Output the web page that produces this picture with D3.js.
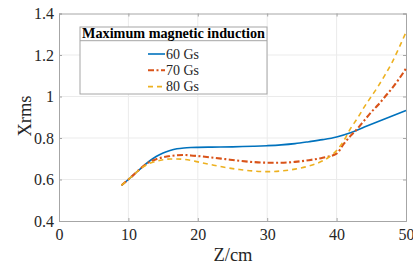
<!DOCTYPE html>
<html>
<head>
<meta charset="utf-8">
<script src="https://cdn.jsdelivr.net/npm/d3@7"></script>
<style>
  body { margin: 0; background: #fff; }
</style>
</head>
<body>
<script>
// data
const zBlue = [9, 10, 11, 12, 13, 14, 15, 16, 17, 18, 19, 20, 22, 25, 28, 30, 32, 34, 36, 38, 40, 42, 44, 46, 48, 50];
const gs60 = [0.572, 0.60, 0.63, 0.66, 0.688, 0.711, 0.728, 0.74, 0.748, 0.752, 0.754, 0.755, 0.756, 0.757, 0.76, 0.763, 0.767, 0.773, 0.782, 0.792, 0.805, 0.825, 0.853, 0.88, 0.906, 0.933];

const zRed = [9, 10, 11, 12, 13, 14, 15, 16, 17, 18, 19, 20, 22, 24, 26, 28, 30, 32, 34, 36, 38, 40, 41, 42, 43, 44, 45, 46, 47, 48, 49, 50];
const gs70 = [0.572, 0.60, 0.63, 0.66, 0.684, 0.698, 0.707, 0.713, 0.717, 0.718, 0.716, 0.713, 0.706, 0.698, 0.69, 0.684, 0.681, 0.681, 0.685, 0.693, 0.705, 0.725, 0.77, 0.81, 0.845, 0.885, 0.925, 0.96, 1.0, 1.04, 1.085, 1.135];

const zYel = [9, 10, 11, 12, 13, 14, 15, 16, 17, 18, 19, 20, 22, 24, 26, 28, 30, 32, 34, 36, 38, 39, 40, 41, 42, 43, 44, 45, 46, 47, 48, 49, 50];
const gs80 = [0.572, 0.60, 0.63, 0.658, 0.677, 0.688, 0.695, 0.699, 0.699, 0.697, 0.692, 0.685, 0.671, 0.658, 0.648, 0.641, 0.638, 0.641, 0.65, 0.665, 0.69, 0.71, 0.74, 0.785, 0.845, 0.895, 0.95, 1.0, 1.05, 1.105, 1.165, 1.235, 1.31];

const xTicks = [0, 10, 20, 30, 40, 50];
const yTicks = [0.4, 0.6, 0.8, 1.0, 1.2, 1.4];
const seriesNames = ['60 Gs', '70 Gs', '80 Gs'];
const seriesColors = ['#0072BD', '#D95319', '#EDB120'];
const seriesDash = ['none', '6,2.5,2,2.5', '5,4'];
const seriesWidth = [1.6, 2.1, 1.6];

const FONT = 'Liberation Serif';

const W = 413, H = 264;
const margin = { top: 13.5, right: 7, bottom: 43, left: 59 };
const width = W - margin.left - margin.right;
const height = H - margin.top - margin.bottom;

const svg = d3.select('body').append('svg').attr('width', W).attr('height', H);
const g = svg.append('g').attr('transform', `translate(${margin.left},${margin.top})`);

const x = d3.scaleLinear().domain([0, 50]).range([0, width]);
const y = d3.scaleLinear().domain([0.4, 1.4]).range([height, 0]);

// grid
g.append('g').selectAll('line').data(xTicks.slice(1, -1)).join('line')
  .attr('x1', d => x(d)).attr('x2', d => x(d)).attr('y1', 0).attr('y2', height)
  .attr('stroke', '#ebebeb').attr('stroke-width', 1);
g.append('g').selectAll('line').data(yTicks.slice(1, -1)).join('line')
  .attr('y1', d => y(d)).attr('y2', d => y(d)).attr('x1', 0).attr('x2', width)
  .attr('stroke', '#ebebeb').attr('stroke-width', 1);

// axes (box met ticks naar binnen)
const fmtY = d => (d === 1 ? '1' : d.toFixed(1));
const axB = g.append('g').attr('transform', `translate(0,${height})`)
  .call(d3.axisBottom(x).tickValues(xTicks).tickSize(-3).tickPadding(8).tickFormat(d3.format('d')));
const axL = g.append('g')
  .call(d3.axisLeft(y).tickValues(yTicks).tickSize(-3).tickPadding(5).tickFormat(fmtY));
const axT = g.append('g')
  .call(d3.axisTop(x).tickValues(xTicks).tickSize(-3).tickFormat(''));
const axR = g.append('g').attr('transform', `translate(${width},0)`)
  .call(d3.axisRight(y).tickValues(yTicks).tickSize(-3).tickFormat(''));
[axB, axL, axT, axR].forEach(a => {
  a.attr('font-family', null).attr('font-size', null);
  a.select('.domain').attr('stroke', '#a6a6a6');
  a.selectAll('.tick line').attr('stroke', '#a6a6a6');
  a.selectAll('text').attr('fill', '#262626')
    .attr('font-family', FONT).attr('font-size', 16);
});

// lines
const line = d3.line().curve(d3.curveMonotoneX).x(d => x(d[0])).y(d => y(d[1]));
const series = [d3.zip(zBlue, gs60), d3.zip(zRed, gs70), d3.zip(zYel, gs80)];
series.forEach((s, i) => {
  g.append('path').datum(s).attr('d', line)
    .attr('fill', 'none')
    .attr('stroke', seriesColors[i])
    .attr('stroke-width', seriesWidth[i])
    .attr('stroke-dasharray', seriesDash[i]);
});

// axis labels
svg.append('text').attr('x', 233).attr('y', 261)
  .attr('text-anchor', 'middle').attr('font-family', FONT).attr('font-size', 18.5)
  .attr('fill', '#262626').text('Z/cm');
svg.append('text').attr('transform', 'translate(31,116) rotate(-90)')
  .attr('text-anchor', 'middle').attr('font-family', FONT).attr('font-size', 18.5)
  .attr('fill', '#262626').text('Xrms');

// legend
const lg = svg.append('g').attr('transform', 'translate(80,27)');
lg.append('rect').attr('width', 187).attr('height', 67)
  .attr('fill', '#fff').attr('stroke', '#a6a6a6').attr('stroke-width', 1);
lg.append('line').attr('x1', 0).attr('x2', 187).attr('y1', 13.7).attr('y2', 13.7)
  .attr('stroke', '#a6a6a6');
lg.append('text').attr('x', 93.5).attr('y', 11).attr('text-anchor', 'middle')
  .attr('font-family', FONT).attr('font-size', 14.2).attr('font-weight', 'bold').attr('fill', '#000')
  .text('Maximum magnetic induction');
seriesNames.forEach((nm, i) => {
  const yy = 27 + i * 16.3;
  lg.append('line').attr('x1', 68).attr('x2', 85).attr('y1', yy).attr('y2', yy)
    .attr('stroke', seriesColors[i]).attr('stroke-width', seriesWidth[i])
    .attr('stroke-dasharray', seriesDash[i]);
  lg.append('text').attr('x', 86).attr('y', yy + 4.5)
    .attr('font-family', FONT).attr('font-size', 14).attr('fill', '#262626').text(nm);
});
</script>
</body>
</html>
